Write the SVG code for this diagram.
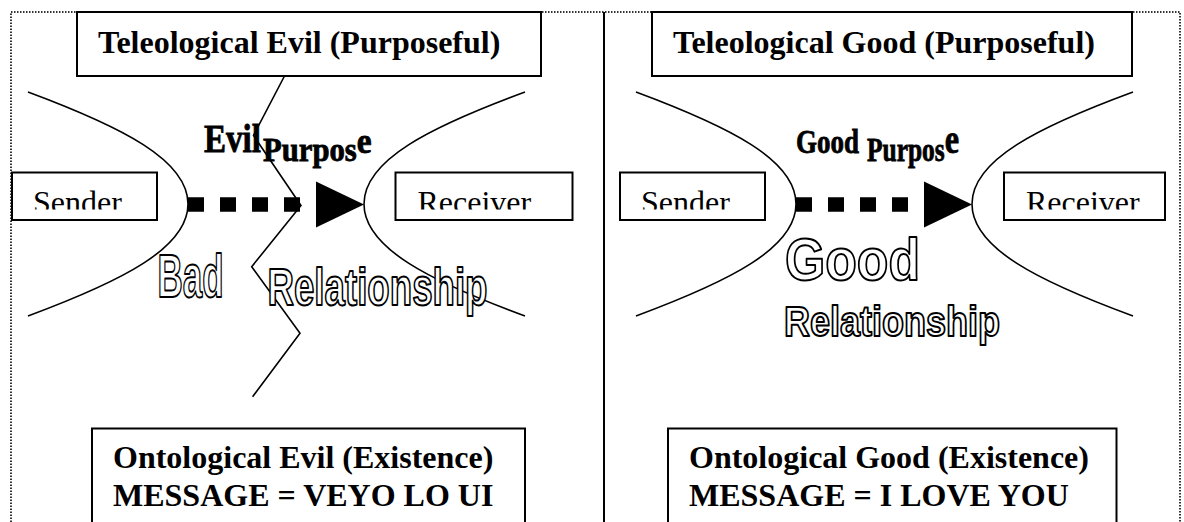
<svg xmlns="http://www.w3.org/2000/svg" width="1184" height="522" viewBox="0 0 1184 522">
<style>
.box{fill:#fff;stroke:#000;stroke-width:2}
.curve{fill:none;stroke:#000;stroke-width:1.6}
.zig{fill:none;stroke:#000;stroke-width:1.6}
.dots{stroke:#000;stroke-width:14.5;stroke-dasharray:16 16;fill:none}
.hd{font-family:"Liberation Serif","Times New Roman",serif;font-weight:bold;font-size:32px;fill:#000}
.lbl{font-family:"Liberation Serif","Times New Roman",serif;font-size:32px;fill:#000}
.wa{font-family:"Liberation Serif","Times New Roman",serif;font-weight:bold;fill:#000;stroke:#000;stroke-width:0.8}
.ol{font-family:"Liberation Sans Narrow","Liberation Sans",Arial,sans-serif;font-weight:bold;fill:#fff;stroke:#000;stroke-width:2;stroke-linejoin:round}
</style>
<defs>
<marker id="tri" markerUnits="userSpaceOnUse" viewBox="0 -24 64 48" markerWidth="64" markerHeight="48" refX="0" refY="0" orient="auto">
<polygon points="16,-23 16,23 64,0" fill="#000"/>
</marker>
<clipPath id="cut"><rect x="0" y="0" width="1184" height="209.5"/></clipPath>
</defs>
<rect width="1184" height="522" fill="#fff"/>
<g id="frame">
<path d="M11,522 V12 H1180 V522" fill="none" stroke="#333" stroke-width="2" stroke-dasharray="1.5 1.5"/>
<line x1="604" y1="12" x2="604" y2="522" stroke="#000" stroke-width="2"/>
</g>
<g id="hyperbolas">
<path class="curve" d="M28,92 C122,127 188,160 188,204 S122,281 28,316"/>
<path class="curve" d="M525,92 C430,127 364,160 364,204 S430,281 525,316"/>
<path class="curve" d="M636,92 C730,127 796,160 796,204 S730,281 636,316"/>
<path class="curve" d="M1133,92 C1038,127 972,160 972,204 S1038,281 1133,316"/>
</g>
<g id="connectors">
<line class="dots" x1="188" y1="204.5" x2="300" y2="204.5" marker-end="url(#tri)"/>
<line class="dots" x1="796" y1="204.5" x2="908" y2="204.5" marker-end="url(#tri)"/>
<polyline class="zig" points="284.5,76 253.5,135.5 301,205.5 251.7,266.7 300,333.3 252.6,396.7"/>
</g>
<g id="tele-evil">
<rect class="box" x="77" y="12" width="464" height="64"/>
<text class="hd" x="98" y="53">Teleological Evil (Purposeful)</text>
</g>
<g id="tele-good">
<rect class="box" x="652" y="12" width="480" height="64"/>
<text class="hd" x="673" y="53">Teleological Good (Purposeful)</text>
</g>
<g id="sender-left">
<rect class="box" x="12" y="172.5" width="145" height="47.5"/>
<text class="lbl" x="33" y="213" clip-path="url(#cut)">Sender</text>
</g>
<g id="receiver-left">
<rect class="box" x="395.5" y="172.5" width="177" height="47.5"/>
<text class="lbl" x="417.5" y="213" clip-path="url(#cut)">Receiver</text>
</g>
<g id="sender-right">
<rect class="box" x="620" y="172.5" width="145" height="47.5"/>
<text class="lbl" x="641" y="213" clip-path="url(#cut)">Sender</text>
</g>
<g id="receiver-right">
<rect class="box" x="1004" y="172.5" width="161" height="47.5"/>
<text class="lbl" x="1026" y="213" clip-path="url(#cut)">Receiver</text>
</g>
<g id="evil-purpose">
<text class="wa" x="204" y="152" font-size="40" textLength="57" lengthAdjust="spacingAndGlyphs">Evil</text>
<text class="wa" transform="translate(263,160.5) scale(0.93,1)" x="0" y="0" font-size="33">Purpos<tspan dy="-7.5" font-size="36">e</tspan></text>
</g>
<g id="good-purpose">
<text class="wa" x="796" y="153" font-size="34" textLength="63" lengthAdjust="spacingAndGlyphs">Good</text>
<text class="wa" transform="translate(867,161) scale(0.77,1)" x="0" y="0" font-size="33">Purpos<tspan dy="-8.5" font-size="42">e</tspan></text>
</g>
<g id="bad-relationship">
<text class="ol" x="157.5" y="297" font-size="62" textLength="66" lengthAdjust="spacingAndGlyphs">Bad</text>
<text class="ol" x="267.5" y="305" font-size="51" textLength="220" lengthAdjust="spacingAndGlyphs">Relationship</text>
</g>
<g id="good-relationship">
<text class="ol" x="785" y="280" font-size="60" textLength="135" lengthAdjust="spacingAndGlyphs">Good</text>
<text class="ol" x="784" y="336" font-size="42" textLength="216" lengthAdjust="spacingAndGlyphs">Relationship</text>
</g>
<g id="onto-evil">
<rect class="box" x="92" y="428.5" width="433" height="120"/>
<text class="hd" x="113" y="468">Ontological Evil (Existence)</text>
<text class="hd" x="113" y="506">MESSAGE = VEYO LO UI</text>
</g>
<g id="onto-good">
<rect class="box" x="668" y="428.5" width="448.5" height="120"/>
<text class="hd" x="689" y="468">Ontological Good (Existence)</text>
<text class="hd" x="689" y="506">MESSAGE = I LOVE YOU</text>
</g>
</svg>
